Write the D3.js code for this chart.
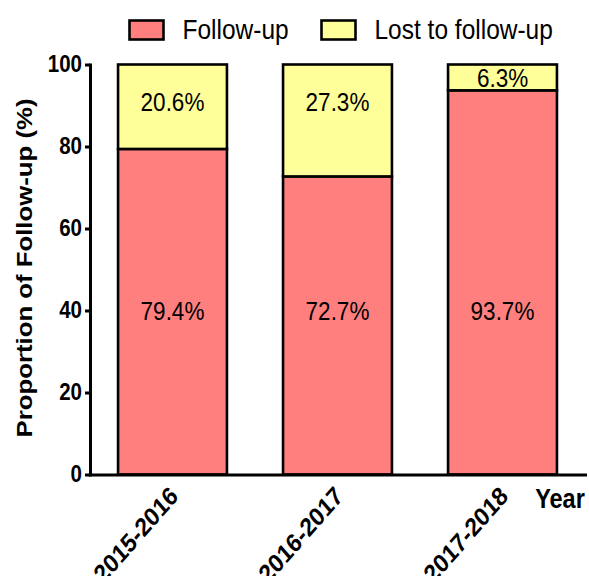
<!DOCTYPE html>
<html>
<head>
<meta charset="utf-8">
<script src="https://cdn.jsdelivr.net/npm/d3@7"></script>
<style>
  body { margin: 0; background: #fff; }
  svg { display: block; font-family: "Liberation Sans", Arial, Helvetica, sans-serif; }
</style>
</head>
<body>
<svg id="chart" width="589" height="576"></svg>
<script>
// Follow-up status by study year (percent of patients)
const years = ["2015-2016", "2016-2017", "2017-2018"];
const followUp = [79.4, 72.7, 93.7];
const lostToFollowUp = [20.6, 27.3, 6.3];
const seriesNames = ["Follow-up", "Lost to follow-up"];
const seriesColors = ["#FF7F7F", "#FFFF99"];
const yTicks = [0, 20, 40, 60, 80, 100];

const svg = d3.select("#chart");
const sy = 1.14; // typeface is drawn slightly tall

const x = d3.scaleBand().domain(years).range([90, 585]).paddingInner(0.34).paddingOuter(0.17);
const y = d3.scaleLinear().domain([0, 100]).range([474.5, 64.5]);

const rows = years.map((yr, i) => ({ year: yr, "Follow-up": followUp[i], "Lost to follow-up": lostToFollowUp[i] }));
const stacked = d3.stack().keys(seriesNames)(rows);

// stacked bars
const layers = svg.append("g").selectAll("g").data(stacked).join("g")
  .attr("fill", (d, i) => seriesColors[i]);
layers.selectAll("rect").data(d => d).join("rect")
  .attr("x", d => x(d.data.year))
  .attr("width", x.bandwidth())
  .attr("y", d => y(d[1]))
  .attr("height", d => y(d[0]) - y(d[1]))
  .attr("stroke", "#000")
  .attr("stroke-width", 2.6);

// segment value labels: follow-up labels share one row, lost labels sit near the bar tops
function labelValue(v, key) {
  if (key === "Follow-up") return 40;
  return Math.max((v[0] + v[1]) / 2, 90.8);
}
layers.selectAll("text").data(d => d.map(v => ({ v, key: d.key }))).join("text")
  .attr("transform", d => `translate(${x(d.v.data.year) + x.bandwidth() / 2},${y(labelValue(d.v, d.key))}) scale(1,${sy})`)
  .attr("text-anchor", "middle")
  .attr("dy", "0.36em")
  .attr("font-size", 22.5)
  .attr("fill", "#000")
  .text(d => d.v.data[d.key].toFixed(1) + "%");

// y axis
const yAxis = svg.append("g").attr("transform", "translate(90,0)")
  .call(d3.axisLeft(y).tickValues(yTicks).tickSize(5).tickSizeOuter(0).tickPadding(3));
yAxis.select(".domain").attr("stroke-width", 3).attr("stroke-linecap", "square");
yAxis.selectAll(".tick line").attr("stroke-width", 3);
yAxis.selectAll(".tick text")
  .attr("font-size", 20.5).attr("font-weight", "bold").attr("fill", "#000")
  .attr("font-family", "'Liberation Sans', Arial, sans-serif")
  .attr("transform", `scale(1,${sy})`);

// x axis
const xAxis = svg.append("g").attr("transform", "translate(0,474.5)")
  .call(d3.axisBottom(x).tickSize(0).tickSizeOuter(0));
xAxis.select(".domain").attr("stroke-width", 3).attr("stroke-linecap", "square");
xAxis.selectAll(".tick text")
  .attr("font-size", 22.6).attr("font-weight", "bold").attr("fill", "#000")
  .attr("font-family", "'Liberation Sans', Arial, sans-serif")
  .attr("text-anchor", "end")
  .attr("x", 0).attr("y", 0).attr("dy", 0)
  .attr("transform", `translate(7,23) scale(1,${sy}) rotate(-45)`);

// axis titles
svg.append("text")
  .attr("transform", `translate(560,508) scale(1,${sy})`)
  .attr("text-anchor", "middle")
  .attr("font-size", 23.5).attr("font-weight", "bold")
  .text("Year");

svg.append("text")
  .attr("transform", `translate(32,268) scale(1,${sy}) rotate(-90)`)
  .attr("text-anchor", "middle")
  .attr("font-size", 22.6).attr("font-weight", "bold")
  .text("Proportion of Follow-up (%)");

// legend
const legendX = [129.5, 321.5];
const legend = svg.append("g").selectAll("g").data(seriesNames).join("g")
  .attr("transform", (d, i) => `translate(${legendX[i]},20.5)`);
legend.append("rect")
  .attr("width", 34).attr("height", 19)
  .attr("fill", (d, i) => seriesColors[i])
  .attr("stroke", "#000").attr("stroke-width", 2.6);
legend.append("text")
  .attr("transform", `translate(53,18) scale(1,${sy})`)
  .attr("font-size", 24.5)
  .text(d => d);
</script>
</body>
</html>
